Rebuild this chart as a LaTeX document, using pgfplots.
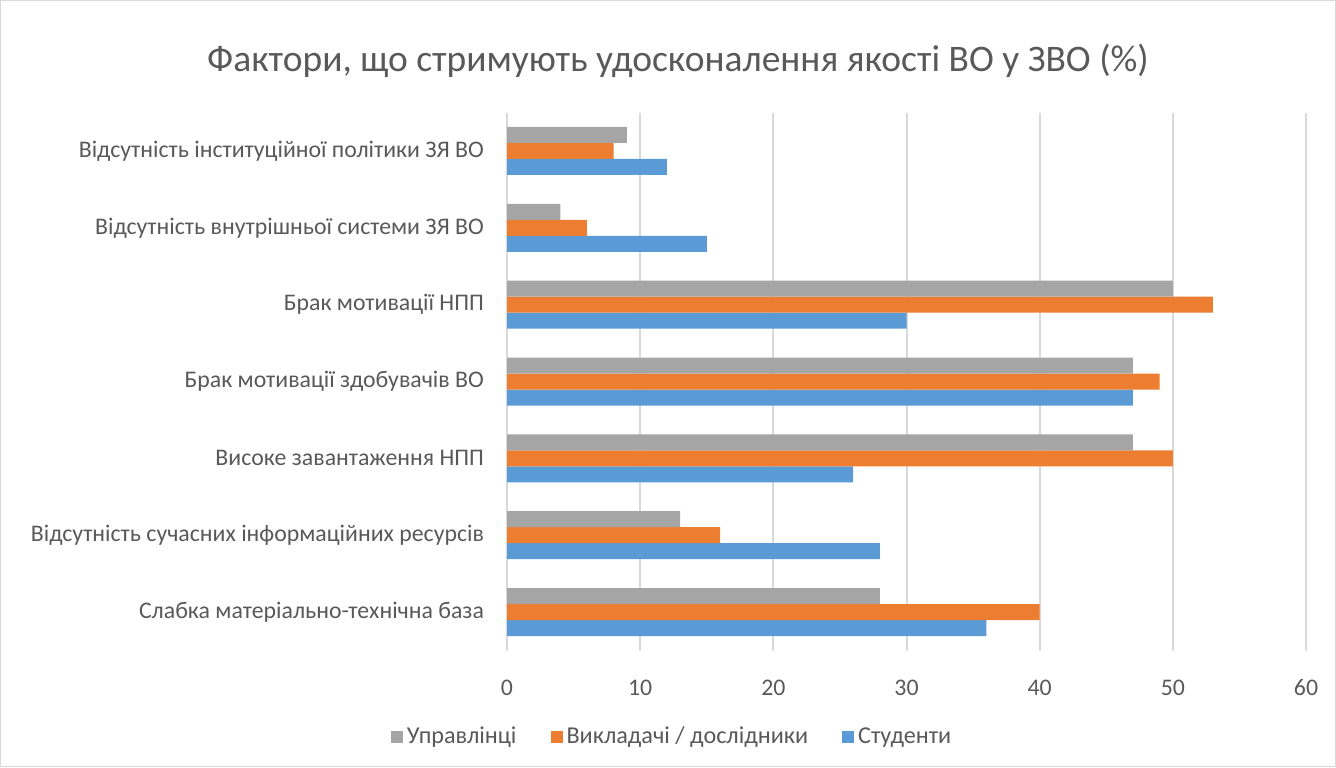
\documentclass[border=0pt]{standalone}
\usepackage{fontspec}
\setmainfont{Carlito}
\usepackage{pgfplots}
\pgfplotsset{compat=1.18}
\definecolor{cgrey}{HTML}{A5A5A5}
\definecolor{corange}{HTML}{ED7D31}
\definecolor{cblue}{HTML}{5B9BD5}
\definecolor{ctext}{HTML}{595959}
\definecolor{cgrid}{HTML}{D9D9D9}
\begin{document}
\begin{tikzpicture}
\path[use as bounding box] (0,0) rectangle (668pt,383.5pt);
\draw[cgrid, line width=0.5pt] (0.25pt,0.25pt) rectangle (667.75pt,383.25pt);
\node[text=ctext, font=\fontsize{18.75}{22}\selectfont] at (339pt,353pt) {Фактори, що стримують удосконалення якості ВО у ЗВО (\%)};
\begin{axis}[
  at={(253.5pt,58.25pt)}, anchor=south west,
  scale only axis, width=399.5pt, height=269pt,
  xbar=0pt, bar width=8pt,
  xmin=0, xmax=60, ymin=-0.5, ymax=6.5,
  xtick={0,10,...,60},
  ytick={0,...,6},
  yticklabels={Слабка матеріально-технічна база, Відсутність сучасних інформаційних ресурсів, Високе завантаження НПП, Брак мотивації здобувачів ВО, Брак мотивації НПП, Відсутність внутрішньої системи ЗЯ ВО, Відсутність інституційної політики ЗЯ ВО},
  axis line style={draw=none},
  major tick length=0pt,
  xmajorgrids, grid style={cgrid, line width=1pt},
  tick label style={text=ctext, font=\fontsize{11.9}{14}\selectfont},
  /pgf/number format/assume math mode=true,
  xticklabel style={yshift=-11pt},
  yticklabel style={xshift=-8pt},
  reverse legend,
  legend columns=3,
  legend style={at={(0.2078,-0.1608)}, anchor=center, draw=none, fill=none,
    font=\fontsize{12.1}{14}\selectfont, text=ctext,
    /tikz/every even column/.append style={column sep=15pt},
    inner sep=0pt},
]
\addplot[fill=cblue, draw=none, legend image code/.code={\fill[cblue] (0pt,-3pt) rectangle (6pt,3pt);}] coordinates {(36,0) (28,1) (26,2) (47,3) (30,4) (15,5) (12,6)};
\addplot[fill=corange, draw=none, legend image code/.code={\fill[corange] (0pt,-3pt) rectangle (6pt,3pt);}] coordinates {(40,0) (16,1) (50,2) (49,3) (53,4) (6,5) (8,6)};
\addplot[fill=cgrey, draw=none, legend image code/.code={\fill[cgrey] (0pt,-3pt) rectangle (6pt,3pt);}] coordinates {(28,0) (13,1) (47,2) (47,3) (50,4) (4,5) (9,6)};
\legend{Студенти, Викладачі / дослідники, Управлінці}
\end{axis}
\end{tikzpicture}
\end{document}
